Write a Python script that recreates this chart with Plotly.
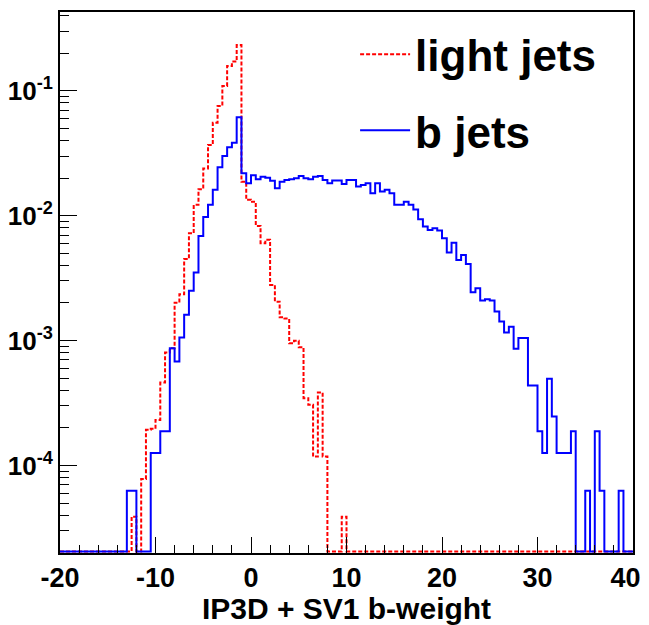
import numpy as np
import plotly.graph_objects as go

# histogram binning: 120 bins of 0.5 from -20 to 40
X_MIN, X_MAX, N_BINS = -20.0, 40.0, 120

# normalised bin contents (0 = empty bin)
LIGHT_JETS = [
    0, 0, 0, 0, 0, 0, 0, 0, 0, 0, 0, 0, 0, 0, 0,
    3.9e-5, 0, 7.8e-5, 1.93e-4, 1.97e-4, 2.32e-4, 4.61e-4, 8.02e-4, 8.70e-4,
    2.01e-3, 2.35e-3, 4.50e-3, 7.23e-3, 1.22e-2, 1.63e-2, 2.39e-2, 3.68e-2,
    5.55e-2, 7.55e-2, 0.109, 0.158, 0.171, 0.232,
    1.87e-2, 1.34e-2, 1.29e-2, 8.27e-3, 6.02e-3, 6.40e-3, 2.79e-3, 2.05e-3,
    1.54e-3, 1.50e-3, 9.53e-4, 9.95e-4, 8.86e-4, 3.46e-4, 3.06e-4, 1.18e-4,
    3.84e-4, 1.18e-4, 0, 0, 0, 3.9e-5,
] + [0] * 60

B_JETS = [
    0, 0, 0, 0, 0, 0, 0, 0, 0, 0, 0, 0, 0, 0,
    6.28e-5, 6.28e-5, 0, 0, 0, 1.26e-4, 1.26e-4, 1.88e-4, 1.88e-4,
    8.70e-4, 6.79e-4, 1.06e-3, 1.61e-3, 2.51e-3, 3.50e-3, 6.88e-3, 9.77e-3,
    1.22e-2, 1.61e-2, 2.44e-2, 3.00e-2, 3.53e-2, 3.84e-2, 6.12e-2,
    2.18e-2, 1.82e-2, 2.11e-2, 1.96e-2, 2.05e-2, 2.01e-2, 1.90e-2, 1.66e-2,
    1.87e-2, 1.93e-2, 1.96e-2, 1.99e-2, 2.08e-2, 1.99e-2, 1.96e-2, 2.05e-2,
    2.08e-2, 1.93e-2, 1.82e-2, 1.91e-2, 1.91e-2, 1.79e-2, 1.93e-2, 1.93e-2,
    1.71e-2, 1.76e-2, 1.82e-2, 1.51e-2, 1.82e-2, 1.56e-2, 1.61e-2, 1.51e-2,
    1.22e-2, 1.22e-2, 1.29e-2, 1.22e-2, 1.12e-2, 9.36e-3, 8.17e-3, 7.69e-3,
    7.93e-3, 7.59e-3, 6.59e-3, 5.06e-3, 6.08e-3, 4.42e-3, 4.85e-3, 4.11e-3,
    2.44e-3, 2.63e-3, 2.09e-3, 2.14e-3, 2.09e-3, 1.71e-3, 1.42e-3, 1.16e-3,
    1.29e-3, 8.59e-4, 1.05e-3, 1.05e-3, 4.37e-4, 4.37e-4, 1.88e-4, 1.26e-4,
    4.94e-4, 2.47e-4, 1.26e-4, 1.26e-4, 1.26e-4, 1.88e-4, 0, 0,
    6.28e-5, 0, 1.88e-4, 6.28e-5, 0, 0, 0, 6.28e-5, 0, 0,
]

Y_TICKS = [1e-4, 1e-3, 1e-2, 1e-1]
Y_TICK_LABELS = ["10<sup>-4</sup>", "10<sup>-3</sup>", "10<sup>-2</sup>", "10<sup>-1</sup>"]
X_TICKS = [-20, -10, 0, 10, 20, 30, 40]
# last label padded so it stays inside the visible page
X_TICK_LABELS = ["-20", "-10", "0", "10", "20", "30", "40\u00a0\u00a0"]

Y_RANGE = [-4.70, -0.37]  # log10

assert len(LIGHT_JETS) == N_BINS and len(B_JETS) == N_BINS

edges = np.linspace(X_MIN, X_MAX, N_BINS + 1)
# empty bins are drawn along the bottom of the frame, like ROOT does
floor = 10 ** (Y_RANGE[0] + 0.012)


def step_y(vals):
    v = [max(x, floor) for x in vals]
    return v + [v[-1]]


FONT = "Liberation Sans, Arial, sans-serif"

fig = go.Figure()
fig.add_trace(go.Scatter(
    x=edges, y=step_y(LIGHT_JETS), name="light jets",
    mode="lines", line=dict(color="#ff0000", width=2, dash="4px,2px", shape="hv"),
    legendgroup="l",
))
fig.add_trace(go.Scatter(
    x=edges, y=step_y(B_JETS), name="b jets",
    mode="lines", line=dict(color="#0000ff", width=2, shape="hv"),
    legendgroup="b",
))

# the page body adds an 8px offset at the top-left
fig.update_layout(
    width=641, height=617,
    margin=dict(l=52, r=16, t=4, b=72),
    paper_bgcolor="white", plot_bgcolor="white",
    font=dict(family=FONT, color="black", weight="bold"),
    showlegend=True,
    legend=dict(
        x=0.515, y=0.987, xanchor="left", yanchor="top",
        font=dict(size=44, family=FONT, weight="bold"),
        itemwidth=50, tracegroupgap=16, traceorder="grouped",
        bgcolor="rgba(0,0,0,0)",
    ),
    xaxis=dict(
        range=[X_MIN, X_MAX], tickvals=X_TICKS, ticktext=X_TICK_LABELS,
        ticks="inside", ticklen=16, tickwidth=1, tickcolor="black",
        minor=dict(dtick=2, ticks="inside", ticklen=8, tickcolor="black"),
        showline=True, linewidth=2, linecolor="black", mirror=True,
        showgrid=False, zeroline=False, automargin=False,
        ticklabeloverflow="allow",
        tickfont=dict(size=27, family=FONT, weight="bold"),
        title=dict(text="IP3D + SV1 b-weight", standoff=8,
                   font=dict(size=30, family=FONT, weight="bold")),
    ),
    yaxis=dict(
        type="log", range=Y_RANGE,
        tickvals=Y_TICKS, ticktext=Y_TICK_LABELS,
        ticks="inside", ticklen=17, tickwidth=1, tickcolor="black",
        minor=dict(dtick="D1", ticks="inside", ticklen=9, tickcolor="black"),
        showline=True, linewidth=2, linecolor="black", mirror=True,
        showgrid=False, zeroline=False, automargin=False,
        tickfont=dict(size=26, family=FONT, weight="bold"),
    ),
)

fig.write_html("out.html")
